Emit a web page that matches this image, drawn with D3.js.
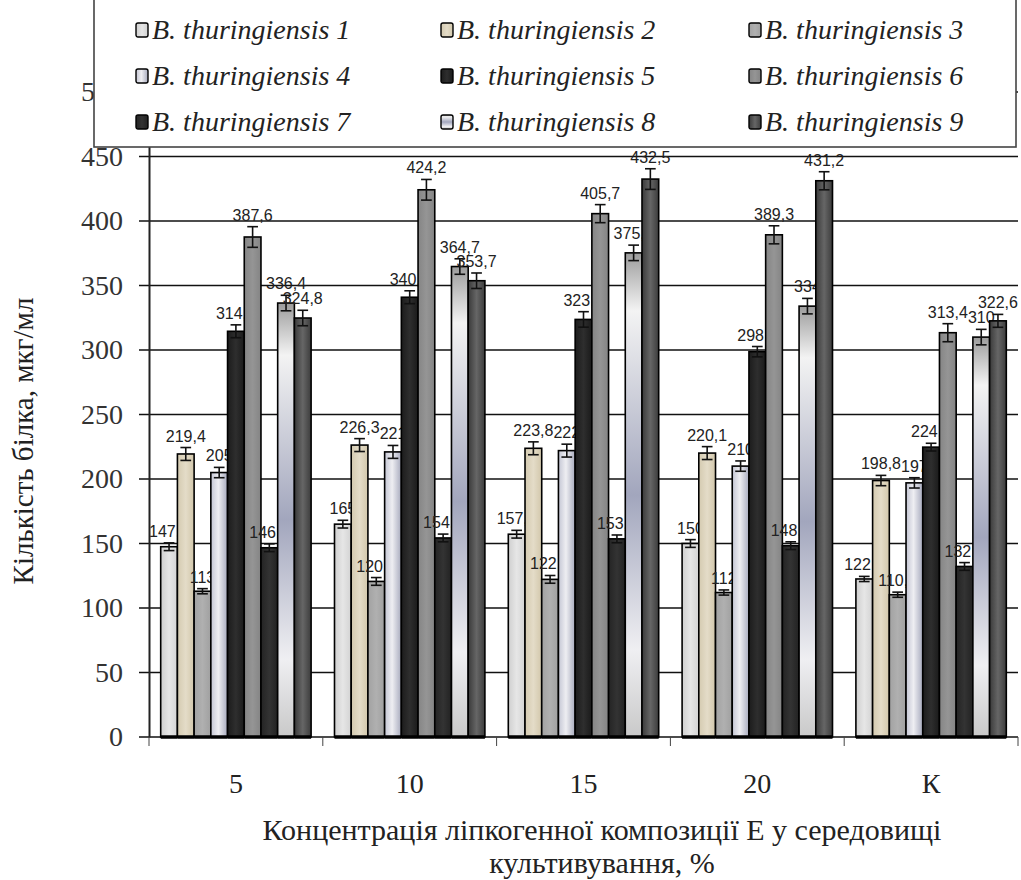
<!DOCTYPE html>
<html>
<head>
<meta charset="utf-8">
<script src="https://cdn.jsdelivr.net/npm/d3@7"></script>
<style>
    body { margin: 0; background: #fff; }
    svg { display: block; }
</style>
</head>
<body>
<svg id="chart" width="1021" height="880"></svg>
<script>
// categories and series
const categories = ["5", "10", "15", "20", "К"];
const seriesNames = ["B. thuringiensis 1", "B. thuringiensis 2", "B. thuringiensis 3",
    "B. thuringiensis 4", "B. thuringiensis 5", "B. thuringiensis 6",
    "B. thuringiensis 7", "B. thuringiensis 8", "B. thuringiensis 9"];

// protein, mkg/ml (one array per strain, in category order)
const bt1 = [147.5, 165, 157.2, 150, 122.5];
const bt2 = [219.4, 226.3, 223.8, 220.1, 198.8];
const bt3 = [113, 120.6, 122.2, 112, 110.3];
const bt4 = [205, 221, 222, 210, 197];
const bt5 = [314.5, 340.9, 323.7, 298.7, 224.7];
const bt6 = [387.6, 424.2, 405.7, 389.3, 313.4];
const bt7 = [146.7, 154.3, 153.6, 148.3, 132.2];
const bt8 = [336.4, 364.7, 375.3, 334, 310];
const bt9 = [324.8, 353.7, 432.5, 431.2, 322.6];

// error bars (±)
const err1 = [3, 3, 3, 3, 2];
const err2 = [5, 5, 5, 5, 4];
const err3 = [2, 3, 3, 2, 2];
const err4 = [4, 5, 5, 4, 4];
const err5 = [5, 5, 6, 4, 3];
const err6 = [8, 8, 7, 7, 7];
const err7 = [3, 3, 3, 3, 3];
const err8 = [6, 6, 6, 6, 6];
const err9 = [6, 6, 8, 7, 5];

const yTicks = [0, 50, 100, 150, 200, 250, 300, 350, 400, 450, 500];

const allValues = [bt1, bt2, bt3, bt4, bt5, bt6, bt7, bt8, bt9];
const allErrors = [err1, err2, err3, err4, err5, err6, err7, err8, err9];

const svg = d3.select("#chart");
const margin = { top: 92, right: 3, bottom: 143, left: 149 };
const width = 1021, height = 880;
const plotRight = width - margin.right;
const plotBottom = height - margin.bottom;

const x0 = d3.scaleBand().domain(categories).range([margin.left, plotRight]).padding(0);
const x1 = d3.scaleBand().domain(d3.range(seriesNames.length)).range([0, x0.bandwidth()])
    .paddingInner(0).paddingOuter(0.7);
const y = d3.scaleLinear().domain([0, 500]).range([plotBottom, margin.top]);

// fills
const defs = svg.append("defs");
function hGrad(id, stops) {
    const g = defs.append("linearGradient").attr("id", id).attr("x1", "0").attr("x2", "1").attr("y1", "0").attr("y2", "0");
    stops.forEach(s => g.append("stop").attr("offset", s[0]).attr("stop-color", s[1]));
}
function vGrad(id, stops) {
    const g = defs.append("linearGradient").attr("id", id).attr("x1", "0").attr("x2", "0").attr("y1", "0").attr("y2", "1");
    stops.forEach(s => g.append("stop").attr("offset", s[0]).attr("stop-color", s[1]));
}
hGrad("f1", [[0, "#cfcfcf"], [0.5, "#e6e6e6"], [1, "#d3d3d3"]]);
hGrad("f2", [[0, "#d4cab0"], [0.5, "#e4dcc8"], [1, "#d2c7ab"]]);
hGrad("f3", [[0, "#a2a2a2"], [0.5, "#b0b0b0"], [1, "#a0a0a0"]]);
hGrad("f4", [[0, "#c4c6d4"], [0.45, "#eeeef2"], [1, "#a7aabd"]]);
hGrad("f5", [[0, "#1c1c1c"], [0.5, "#2e2e2e"], [1, "#1a1a1a"]]);
hGrad("f6", [[0, "#858585"], [0.5, "#959595"], [1, "#848484"]]);
hGrad("f7", [[0, "#242424"], [0.5, "#333333"], [1, "#222222"]]);
vGrad("f8", [[0, "#9c9c9c"], [0.12, "#f3f3f3"], [0.5, "#a2a6bd"], [0.82, "#efeff2"], [1, "#c9c9c9"]]);
hGrad("f9", [[0, "#3a3a3a"], [0.5, "#666666"], [1, "#3c3c3c"]]);
const fills = d3.range(1, 10).map(i => `url(#f${i})`);

// gridlines + y axis
svg.append("g")
    .selectAll("line")
    .data(yTicks)
    .enter().append("line")
    .attr("x1", margin.left - 10)
    .attr("x2", plotRight)
    .attr("y1", d => y(d))
    .attr("y2", d => y(d))
    .attr("stroke", "#111")
    .attr("stroke-width", 1.3);

svg.append("g")
    .attr("transform", `translate(${margin.left},0)`)
    .call(d3.axisLeft(y).tickValues(yTicks).tickSize(0).tickPadding(26))
    .call(g => g.select(".domain").attr("stroke", "#222").attr("stroke-width", 2))
    .selectAll("text")
    .attr("font-family", "'Liberation Serif', 'Times New Roman', serif")
    .attr("font-size", 28)
    .attr("fill", "#333");

// x ticks at category boundaries
const boundaries = categories.map(c => x0(c)).concat([plotRight]);
svg.append("g")
    .selectAll("line")
    .data(boundaries)
    .enter().append("line")
    .attr("x1", d => d).attr("x2", d => d)
    .attr("y1", plotBottom).attr("y2", plotBottom + 9)
    .attr("stroke", "#444").attr("stroke-width", 1);

svg.append("g")
    .selectAll("text")
    .data(categories)
    .enter().append("text")
    .attr("x", d => x0(d) + x0.bandwidth() / 2)
    .attr("y", plotBottom + 56)
    .attr("text-anchor", "middle")
    .attr("font-family", "'Liberation Serif', 'Times New Roman', serif")
    .attr("font-size", 28)
    .attr("fill", "#222")
    .text(d => d);

// bars drawn strain by strain so later bars cover earlier labels
const fmt = v => String(v).replace(".", ",");
seriesNames.forEach((name, si) => {
    const g = svg.append("g").attr("class", "series");
    const rows = categories.map((c, ci) => ({ c, v: allValues[si][ci], e: allErrors[si][ci] }));
    const bx = d => x0(d.c) + x1(si);

    g.selectAll("rect")
        .data(rows)
        .enter().append("rect")
        .attr("x", bx)
        .attr("y", d => y(d.v))
        .attr("width", x1.bandwidth())
        .attr("height", d => y(0) - y(d.v))
        .attr("fill", fills[si])
        .attr("stroke", "#000")
        .attr("stroke-width", 1.6);

    g.selectAll("line.base")
        .data(rows)
        .enter().append("line")
        .attr("class", "base")
        .attr("x1", bx).attr("x2", d => bx(d) + x1.bandwidth())
        .attr("y1", y(0)).attr("y2", y(0))
        .attr("stroke", "#000").attr("stroke-width", 3.5);

    const eb = g.selectAll("g.err").data(rows).enter().append("g").attr("class", "err")
        .attr("stroke", "#111").attr("stroke-width", 1.6);
    eb.append("line")
        .attr("x1", d => bx(d) + x1.bandwidth() / 2).attr("x2", d => bx(d) + x1.bandwidth() / 2)
        .attr("y1", d => y(d.v + d.e)).attr("y2", d => y(d.v - d.e));
    eb.append("line")
        .attr("x1", d => bx(d) + 3).attr("x2", d => bx(d) + x1.bandwidth() - 3)
        .attr("y1", d => y(d.v + d.e)).attr("y2", d => y(d.v + d.e));
    eb.append("line")
        .attr("x1", d => bx(d) + 3).attr("x2", d => bx(d) + x1.bandwidth() - 3)
        .attr("y1", d => y(d.v - d.e)).attr("y2", d => y(d.v - d.e));

    g.selectAll("text")
        .data(rows)
        .enter().append("text")
        .attr("x", d => bx(d) + x1.bandwidth() / 2)
        .attr("y", d => y(d.v + d.e) - 6)
        .attr("text-anchor", "middle")
        .attr("font-family", "'Liberation Sans', Arial, sans-serif")
        .attr("font-size", 16)
        .attr("fill", "#222")
        .text(d => fmt(d.v));
});

// axis titles
svg.append("text")
    .attr("transform", "translate(33,441) rotate(-90)")
    .attr("text-anchor", "middle")
    .attr("font-family", "'Liberation Serif', 'Times New Roman', serif")
    .attr("font-size", 29)
    .attr("fill", "#222")
    .text("Кількість білка, мкг/мл");

svg.append("text")
    .attr("x", 602).attr("y", 840)
    .attr("text-anchor", "middle")
    .attr("font-family", "'Liberation Serif', 'Times New Roman', serif")
    .attr("font-size", 30)
    .attr("fill", "#222")
    .text("Концентрація ліпкогенної композиції Е у середовищі");

svg.append("text")
    .attr("x", 602).attr("y", 873)
    .attr("text-anchor", "middle")
    .attr("font-family", "'Liberation Serif', 'Times New Roman', serif")
    .attr("font-size", 30)
    .attr("fill", "#222")
    .text("культивування, %");

// legend box (covers the top of the plot, as in the original)
const legend = svg.append("g");
legend.append("rect")
    .attr("x", 94).attr("y", -4)
    .attr("width", 922).attr("height", 151)
    .attr("fill", "#fff")
    .attr("stroke", "#444").attr("stroke-width", 1.6);

const colX = [136, 441, 749];
const rowY = [30, 76, 122];
const items = legend.selectAll("g.item")
    .data(seriesNames)
    .enter().append("g")
    .attr("class", "item")
    .attr("transform", (d, i) => `translate(${colX[i % 3]},${rowY[Math.floor(i / 3)]})`);
items.append("rect")
    .attr("x", 0).attr("y", -7)
    .attr("width", 12).attr("height", 14)
    .attr("rx", 2)
    .attr("fill", (d, i) => fills[i])
    .attr("stroke", "#000").attr("stroke-width", 1.4);
items.append("text")
    .attr("x", 16).attr("y", 9)
    .attr("font-family", "'Liberation Serif', 'Times New Roman', serif")
    .attr("font-style", "italic")
    .attr("font-size", 28)
    .attr("fill", "#222")
    .text(d => d);
</script>
</body>
</html>
